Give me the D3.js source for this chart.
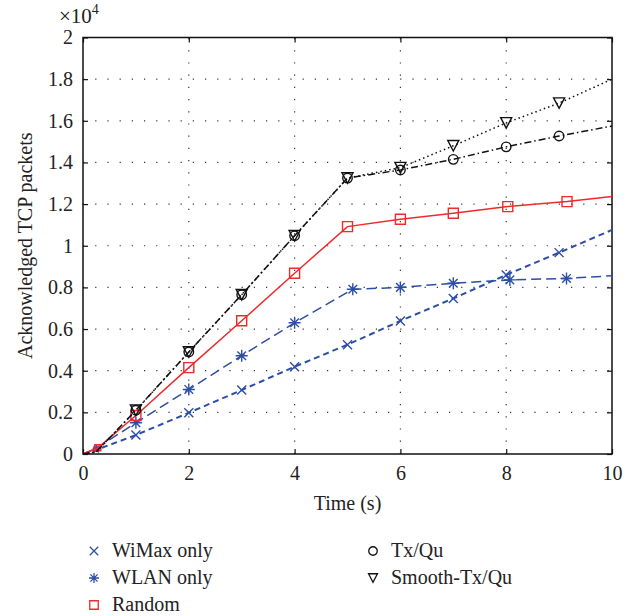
<!DOCTYPE html>
<html>
<head>
<meta charset="utf-8">
<script src="https://cdn.jsdelivr.net/npm/d3@7"></script>
<style>
  body { margin: 0; background: #fff; }
  text { font-family: "Liberation Serif", "Times New Roman", serif; fill: #222; }
</style>
</head>
<body>
<svg id="chart" width="634" height="616"></svg>
<script>
// tick labels
const xTicks = [0, 2, 4, 6, 8, 10]
const yTicks = [0, 0.2, 0.4, 0.6, 0.8, 1, 1.2, 1.4, 1.6, 1.8, 2]

// series (values in units of 1e4 packets)
const wimaxT = [0, 0.25, 1, 2, 3, 4, 5, 6, 7, 8, 9, 10]
const wimaxV = [0, 0.02, 0.091, 0.198, 0.307, 0.419, 0.525, 0.639, 0.747, 0.86, 0.967, 1.076]
const wlanT = [0, 0.25, 1, 2, 3, 4, 5.1, 6, 7, 8.07, 9.14, 10]
const wlanV = [0, 0.027, 0.15, 0.31, 0.472, 0.63, 0.791, 0.80, 0.82, 0.836, 0.843, 0.856]
const randomT = [0, 0.28, 1, 2, 3, 4, 5, 6, 7, 8.03, 9.15, 10]
const randomV = [0, 0.03, 0.185, 0.415, 0.64, 0.868, 1.092, 1.127, 1.156, 1.188, 1.212, 1.236]
const txquT = [0, 0.25, 1, 2, 3, 4, 5, 6, 7, 8, 9, 10]
const txquV = [0, 0.01, 0.21, 0.49, 0.765, 1.048, 1.325, 1.364, 1.415, 1.475, 1.527, 1.575]
const smoothT = [0, 0.25, 1, 2, 3, 4, 5, 6, 7, 8, 9, 10]
const smoothV = [0, 0.01, 0.21, 0.49, 0.765, 1.048, 1.325, 1.375, 1.48, 1.59, 1.685, 1.8]

const blue = '#2d4ea6', red = '#ee2a2a', black = '#111'
const FS = 20

const series = [
  { name: 'WiMax only', t: wimaxT, v: wimaxV, color: blue, width: 2, dash: '6,4', mark: 'x', markFrom: 1 },
  { name: 'WLAN only', t: wlanT, v: wlanV, color: blue, width: 1.5, dash: '10,5', mark: 'star', markFrom: 1 },
  { name: 'Random', t: randomT, v: randomV, color: red, width: 1.5, dash: null, mark: 'square', markFrom: 1 },
  { name: 'Tx/Qu', t: txquT, v: txquV, color: black, width: 1.5, dash: '7,3,1.5,3', mark: 'circle', markFrom: 2 },
  { name: 'Smooth-Tx/Qu', t: smoothT, v: smoothV, color: black, width: 1.5, dash: '1.5,3', mark: 'tri', markFrom: 2 }
]

const m = { left: 83, top: 37.5, right: 612, bottom: 454 }
const svg = d3.select('#chart')
svg.append('rect').attr('width', 634).attr('height', 616).attr('fill', '#fff')

const x = d3.scaleLinear().domain([0, 10]).range([m.left, m.right])
const y = d3.scaleLinear().domain([0, 2]).range([m.bottom, m.top])

// grid
const grid = svg.append('g').attr('stroke', '#333').attr('stroke-width', 1.2).attr('stroke-dasharray', '1.2,11')
xTicks.slice(1, -1).forEach(t => {
  grid.append('line').attr('x1', x(t)).attr('x2', x(t)).attr('y1', m.bottom).attr('y2', m.top)
})
yTicks.slice(1, -1).forEach(t => {
  grid.append('line').attr('x1', m.left).attr('x2', m.right).attr('y1', y(t)).attr('y2', y(t))
})

// axes with inward ticks on all four sides
const fmt = d => d === 0 ? '0' : d3.format('~g')(d)
const axB = svg.append('g').attr('transform', `translate(0,${m.bottom})`)
  .call(d3.axisBottom(x).tickValues(xTicks).tickSizeInner(-5).tickSizeOuter(0).tickPadding(12).tickFormat(fmt))
const axT = svg.append('g').attr('transform', `translate(0,${m.top})`)
  .call(d3.axisTop(x).tickValues(xTicks).tickSizeInner(-5).tickSizeOuter(0).tickFormat(''))
const axL = svg.append('g').attr('transform', `translate(${m.left},0)`)
  .call(d3.axisLeft(y).tickValues(yTicks).tickSizeInner(-5).tickSizeOuter(0).tickPadding(10).tickFormat(fmt))
const axR = svg.append('g').attr('transform', `translate(${m.right},0)`)
  .call(d3.axisRight(y).tickValues(yTicks).tickSizeInner(-5).tickSizeOuter(0).tickFormat(''))
;[axB, axT, axL, axR].forEach(a => {
  a.select('.domain').remove()
  a.selectAll('line').attr('stroke', '#111').attr('stroke-width', 1.2)
  a.selectAll('text').attr('font-family', '"Liberation Serif", serif').attr('font-size', FS).attr('fill', '#222')
})
axB.selectAll('text').attr('dy', '0.71em')

svg.append('rect').attr('x', m.left).attr('y', m.top)
  .attr('width', m.right - m.left).attr('height', m.bottom - m.top)
  .attr('fill', 'none').attr('stroke', '#111').attr('stroke-width', 1.5)

// markers
const markPath = (type, s) => {
  const h = s / 2
  if (type === 'x') return `M${-h},${-h}L${h},${h}M${-h},${h}L${h},${-h}`
  if (type === 'star') {
    const d = h * 0.72
    return `M0,${-h}V${h}M${-h},0H${h}M${-d},${-d}L${d},${d}M${-d},${d}L${d},${-d}`
  }
  if (type === 'square') return `M${-h},${-h}H${h}V${h}H${-h}Z`
  if (type === 'circle') return `M${h},0A${h},${h} 0 1,1 ${-h},0A${h},${h} 0 1,1 ${h},0Z`
  if (type === 'tri') return `M${-h * 1.05},${-h}H${h * 1.05}L0,${h}Z`
}
const markSize = { x: 9, star: 12, square: 10, circle: 9.5, tri: 10.5 }

const line = d3.line().x(d => x(d[0])).y(d => y(d[1]))
series.forEach(s => {
  const pts = s.t.map((t, i) => [t, s.v[i]])
  svg.append('path').datum(pts).attr('d', line)
    .attr('fill', 'none').attr('stroke', s.color).attr('stroke-width', s.width)
    .attr('stroke-dasharray', s.dash)
  svg.append('g').selectAll('path')
    .data(pts.filter((p, i) => i >= s.markFrom && p[0] < 10))
    .join('path')
      .attr('transform', d => `translate(${x(d[0])},${y(d[1])})`)
      .attr('d', d => markPath(s.mark, d[0] < 0.5 ? markSize[s.mark] * 0.6 : markSize[s.mark]))
      .attr('fill', 'none').attr('stroke', s.color).attr('stroke-width', 1.4)
})

// scale factor label
const sf = svg.append('text').attr('x', 59).attr('y', 23).attr('font-size', FS + 1)
sf.append('tspan').text('×10')
sf.append('tspan').attr('font-size', 14).attr('dy', -9).text('4')

// axis titles
svg.append('text').attr('x', (m.left + m.right) / 2).attr('y', 510)
  .attr('text-anchor', 'middle').attr('font-size', FS).text('Time (s)')
svg.append('text').attr('transform', `translate(32,${(m.top + m.bottom) / 2}) rotate(-90)`)
  .attr('text-anchor', 'middle').attr('font-size', FS).text('Acknowledged TCP packets')

// legend
const legendPos = [[94, 551], [94, 578], [94, 605], [373, 551], [373, 578]]
series.forEach((s, i) => {
  const [lx, ly] = legendPos[i]
  svg.append('path').attr('transform', `translate(${lx},${ly})`)
    .attr('d', markPath(s.mark, s.mark === 'star' ? 10 : 8.5))
    .attr('fill', 'none').attr('stroke', s.color).attr('stroke-width', 1.3)
  svg.append('text').attr('x', lx + 18).attr('y', ly + 6).attr('font-size', FS).text(s.name)
})
</script>
</body>
</html>
